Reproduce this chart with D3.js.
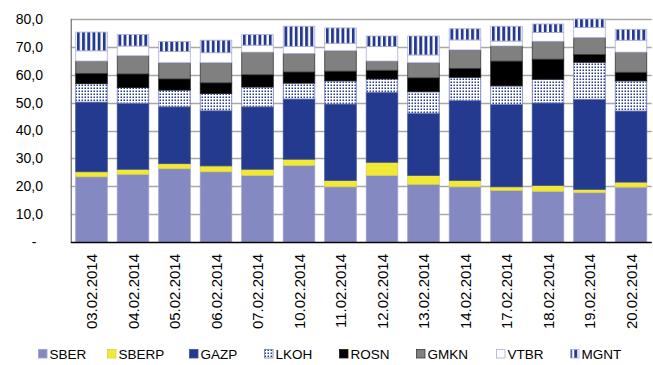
<!DOCTYPE html>
<html>
<head>
<meta charset="utf-8">
<script src="https://cdn.jsdelivr.net/npm/d3@7"></script>
<style>
  html, body { margin: 0; padding: 0; background: #fff; }
  svg { display: block; }
  text { font-family: "Liberation Sans", Arial, sans-serif; fill: #000; }
</style>
</head>
<body>
<svg id="chart" width="653" height="365"></svg>
<script>
// Trading dates (categories)
const dates = ["03.02.2014", "04.02.2014", "05.02.2014", "06.02.2014", "07.02.2014",
  "10.02.2014", "11.02.2014", "12.02.2014", "13.02.2014", "14.02.2014",
  "17.02.2014", "18.02.2014", "19.02.2014", "20.02.2014"];

// Share of each ticker, stacked bottom to top
const SBER  = [23.4, 24.3, 26.3, 25.2, 23.9, 27.5, 19.8, 23.9, 20.7, 19.8, 18.5, 18.2, 17.7, 19.7];
const SBERP = [1.8, 1.8, 1.8, 2.1, 2.2, 2.2, 2.3, 4.7, 3.2, 2.3, 1.3, 2.1, 1.2, 1.8];
const GAZP  = [25.0, 23.7, 20.4, 19.8, 22.4, 21.6, 27.4, 25.1, 22.3, 28.6, 29.5, 29.6, 32.3, 25.5];
const LKOH  = [6.6, 5.6, 6.0, 6.2, 7.1, 5.7, 8.3, 4.8, 7.7, 8.4, 6.7, 8.5, 13.3, 10.8];
const ROSN  = [3.7, 4.9, 4.0, 3.8, 4.4, 4.0, 3.5, 3.1, 5.0, 3.2, 8.9, 7.2, 2.8, 3.1];
const GMKN  = [4.4, 6.5, 5.8, 7.2, 8.1, 6.6, 7.3, 3.3, 5.4, 6.6, 5.4, 6.4, 6.0, 7.2];
const VTBR  = [3.7, 3.5, 4.0, 3.6, 2.5, 2.6, 2.7, 5.2, 2.8, 3.6, 1.8, 3.2, 3.7, 4.3];
const MGNT  = [6.7, 4.1, 3.6, 4.5, 3.8, 7.2, 5.5, 3.8, 6.8, 4.0, 5.3, 3.0, 3.0, 3.9];

const seriesNames = ["SBER", "SBERP", "GAZP", "LKOH", "ROSN", "GMKN", "VTBR", "MGNT"];
const seriesValues = [SBER, SBERP, GAZP, LKOH, ROSN, GMKN, VTBR, MGNT];

// Y axis tick labels
const yTicks = [0, 10, 20, 30, 40, 50, 60, 70, 80];
const yTickLabels = ["-", "10,0", "20,0", "30,0", "40,0", "50,0", "60,0", "70,0", "80,0"];

// Rows for d3.stack
const rows = dates.map((d, i) => {
  const r = { date: d };
  seriesNames.forEach((s, k) => { r[s] = seriesValues[k][i]; });
  return r;
});

const svg = d3.select("#chart");
const plot = { left: 70.75, right: 651.75, top: 19, bottom: 242 };

const x = d3.scaleBand()
  .domain(dates)
  .range([plot.left, plot.right])
  .paddingInner(0.24)
  .paddingOuter(0.12);

const y = d3.scaleLinear().domain([0, 80]).range([plot.bottom, plot.top]);

const navy = "#243a8e";

// Fill patterns
const defs = svg.append("defs");

const dots = defs.append("pattern")
  .attr("id", "pat-dots")
  .attr("patternUnits", "userSpaceOnUse")
  .attr("width", 3).attr("height", 3);
dots.append("rect").attr("width", 3).attr("height", 3).attr("fill", "#fff");
dots.append("rect").attr("x", 0.5).attr("y", 0.5).attr("width", 1.5).attr("height", 1.5).attr("fill", navy);

const stripePeriod = x.step() / 8;
const stripes = defs.append("pattern")
  .attr("id", "pat-stripes")
  .attr("patternUnits", "userSpaceOnUse")
  .attr("x", x(dates[0]) + 1.2)
  .attr("width", stripePeriod).attr("height", 10);
stripes.append("rect").attr("width", stripePeriod).attr("height", 10).attr("fill", "#fff");
stripes.append("rect").attr("x", 0).attr("width", stripePeriod * 0.55).attr("height", 10).attr("fill", navy);

const styles = {
  SBER:  { fill: "#8589c1", stroke: "#9a9ed0" },
  SBERP: { fill: "#f1e935", stroke: "#d8d050" },
  GAZP:  { fill: navy, stroke: "#3a4e98" },
  LKOH:  { fill: "url(#pat-dots)", stroke: "#6f7bb8" },
  ROSN:  { fill: "#000000", stroke: "#1a1a1a" },
  GMKN:  { fill: "#808080", stroke: "#3a3a3a" },
  VTBR:  { fill: "#ffffff", stroke: "#a9abe0" },
  MGNT:  { fill: "url(#pat-stripes)", stroke: "#a9abe0" }
};

// Gridlines (including the top edge at 80)
svg.append("g")
  .selectAll("line")
  .data(yTicks.filter(t => t > 0))
  .join("line")
  .attr("x1", plot.left).attr("x2", plot.right)
  .attr("y1", d => Math.round(y(d)) + 0.5).attr("y2", d => Math.round(y(d)) + 0.5)
  .attr("stroke", "#a8a8a8").attr("stroke-width", 1.3);

// Stacked bars
const stack = d3.stack().keys(seriesNames);
const layers = stack(rows);

svg.append("g")
  .selectAll("g")
  .data(layers)
  .join("g")
  .attr("fill", d => styles[d.key].fill)
  .attr("stroke", d => styles[d.key].stroke)
  .attr("stroke-width", 0.8)
  .selectAll("rect")
  .data(d => d)
  .join("rect")
  .attr("x", d => x(d.data.date))
  .attr("width", x.bandwidth())
  .attr("y", d => y(d[1]))
  .attr("height", d => y(d[0]) - y(d[1]));

// Y axis line
svg.append("line")
  .attr("x1", plot.left + 0.5).attr("x2", plot.left + 0.5)
  .attr("y1", plot.top).attr("y2", plot.bottom)
  .attr("stroke", "#7a7a7a").attr("stroke-width", 1.3);

// X axis line
svg.append("line")
  .attr("x1", plot.left).attr("x2", plot.right)
  .attr("y1", plot.bottom + 0.5).attr("y2", plot.bottom + 0.5)
  .attr("stroke", "#000").attr("stroke-width", 1.5);

// Y tick labels
const yAxis = d3.axisLeft(y)
  .tickValues(yTicks)
  .tickFormat((d, i) => yTickLabels[i])
  .tickSize(0)
  .tickPadding(0);
const gy = svg.append("g")
  .attr("transform", `translate(43,0)`)
  .call(yAxis);
gy.select(".domain").remove();
gy.selectAll("text")
  .attr("font-size", 14)
  .attr("font-family", "Liberation Sans, Arial, sans-serif")
  .attr("fill", "#000");
gy.selectAll(".tick").filter(d => d === 0).select("text")
  .attr("text-anchor", "middle").attr("x", -9);

// X tick labels (rotated)
const xAxis = d3.axisBottom(x).tickSize(0).tickPadding(0);
const gx = svg.append("g")
  .attr("transform", `translate(0,${plot.bottom})`)
  .call(xAxis);
gx.select(".domain").remove();
gx.selectAll("text")
  .attr("font-size", 15)
  .attr("font-family", "Liberation Sans, Arial, sans-serif")
  .attr("fill", "#000")
  .attr("text-anchor", "end")
  .attr("dy", null)
  .attr("y", 0)
  .attr("transform", "translate(5.5,12) rotate(-90)");

// Legend
const legendX = [38, 107, 189, 264, 339, 416, 496, 570];
const legend = svg.append("g");
const items = legend.selectAll("g")
  .data(seriesNames)
  .join("g")
  .attr("transform", (d, i) => `translate(${legendX[i]},349)`);
items.append("rect")
  .attr("x", 0.5).attr("y", 0.5)
  .attr("width", 8.5).attr("height", 8.5)
  .attr("fill", d => styles[d].fill)
  .attr("stroke", d => styles[d].stroke)
  .attr("stroke-width", 0.8);
items.append("text")
  .attr("x", 11.5)
  .attr("y", 9.5)
  .attr("font-size", 13.5)
  .text(d => d);
</script>
</body>
</html>
